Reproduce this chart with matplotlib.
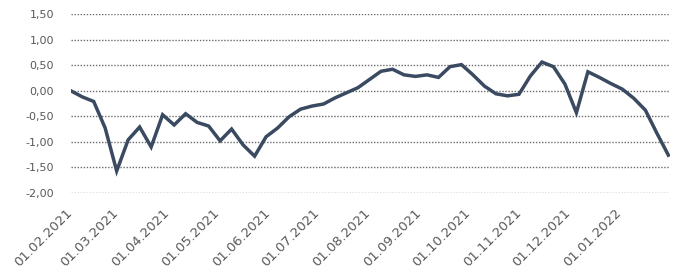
import numpy as np
import pandas as pd
import matplotlib.pyplot as plt
import matplotlib.dates as mdates

plt.rcParams['font.family'] = ['DejaVu Sans']

# weekly series, starting 01.02.2021
dates = pd.date_range('2021-02-01', periods=53, freq='7D')
values = [0.00, -0.12, -0.21, -0.73, -1.57, -0.96, -0.71, -1.10, -0.47, -0.67,
          -0.45, -0.62, -0.69, -0.98, -0.75, -1.06, -1.28, -0.90, -0.73, -0.51,
          -0.36, -0.30, -0.26, -0.14, -0.04, 0.06, 0.22, 0.38, 0.42, 0.31,
          0.28, 0.31, 0.26, 0.47, 0.51, 0.31, 0.09, -0.06, -0.10, -0.07,
          0.29, 0.56, 0.47, 0.13, -0.43, 0.37, 0.26, 0.14, 0.03, -0.15,
          -0.38, -0.83, -1.26]

y_ticks = [-2.0, -1.5, -1.0, -0.5, 0.0, 0.5, 1.0, 1.5]
y_labels = ['-2,00', '-1,50', '-1,00', '-0,50', '0,00', '0,50', '1,00', '1,50']
x_ticks = pd.date_range('2021-02-01', '2022-01-01', freq='MS')
x_labels = [d.strftime('%d.%m.%Y') for d in x_ticks]

line_color = '#3a4a60'
grid_color = '#6b6b6b'
text_color = '#595959'

fig = plt.figure(figsize=(6.78, 2.75), dpi=100)
ax = fig.add_axes([70.7 / 678, 1 - 193 / 275, (670 - 70.7) / 678, (193 - 14) / 275])

ax.plot(dates, values, color=line_color, linewidth=2.5, solid_joinstyle='miter')

ax.set_ylim(-2.0, 1.5)
ax.set_xlim(pd.Timestamp('2021-02-01'), pd.Timestamp('2022-02-01'))

ax.set_yticks(y_ticks)
ax.set_yticklabels(y_labels, fontsize=8, color=text_color)
ax.set_xticks(x_ticks)
ax.set_xticklabels(x_labels, fontsize=9.5, color=text_color, rotation=45,
                   ha='right', va='center', rotation_mode='anchor')

ax.yaxis.grid(True, linestyle=(0, (1, 1.2)), color=grid_color, linewidth=1.0)
ax.set_axisbelow(True)
ax.tick_params(axis='y', length=0, pad=12)
ax.tick_params(axis='x', length=0, pad=13)
for s in ax.spines.values():
    s.set_visible(False)

fig.savefig('out.png', dpi=100)
